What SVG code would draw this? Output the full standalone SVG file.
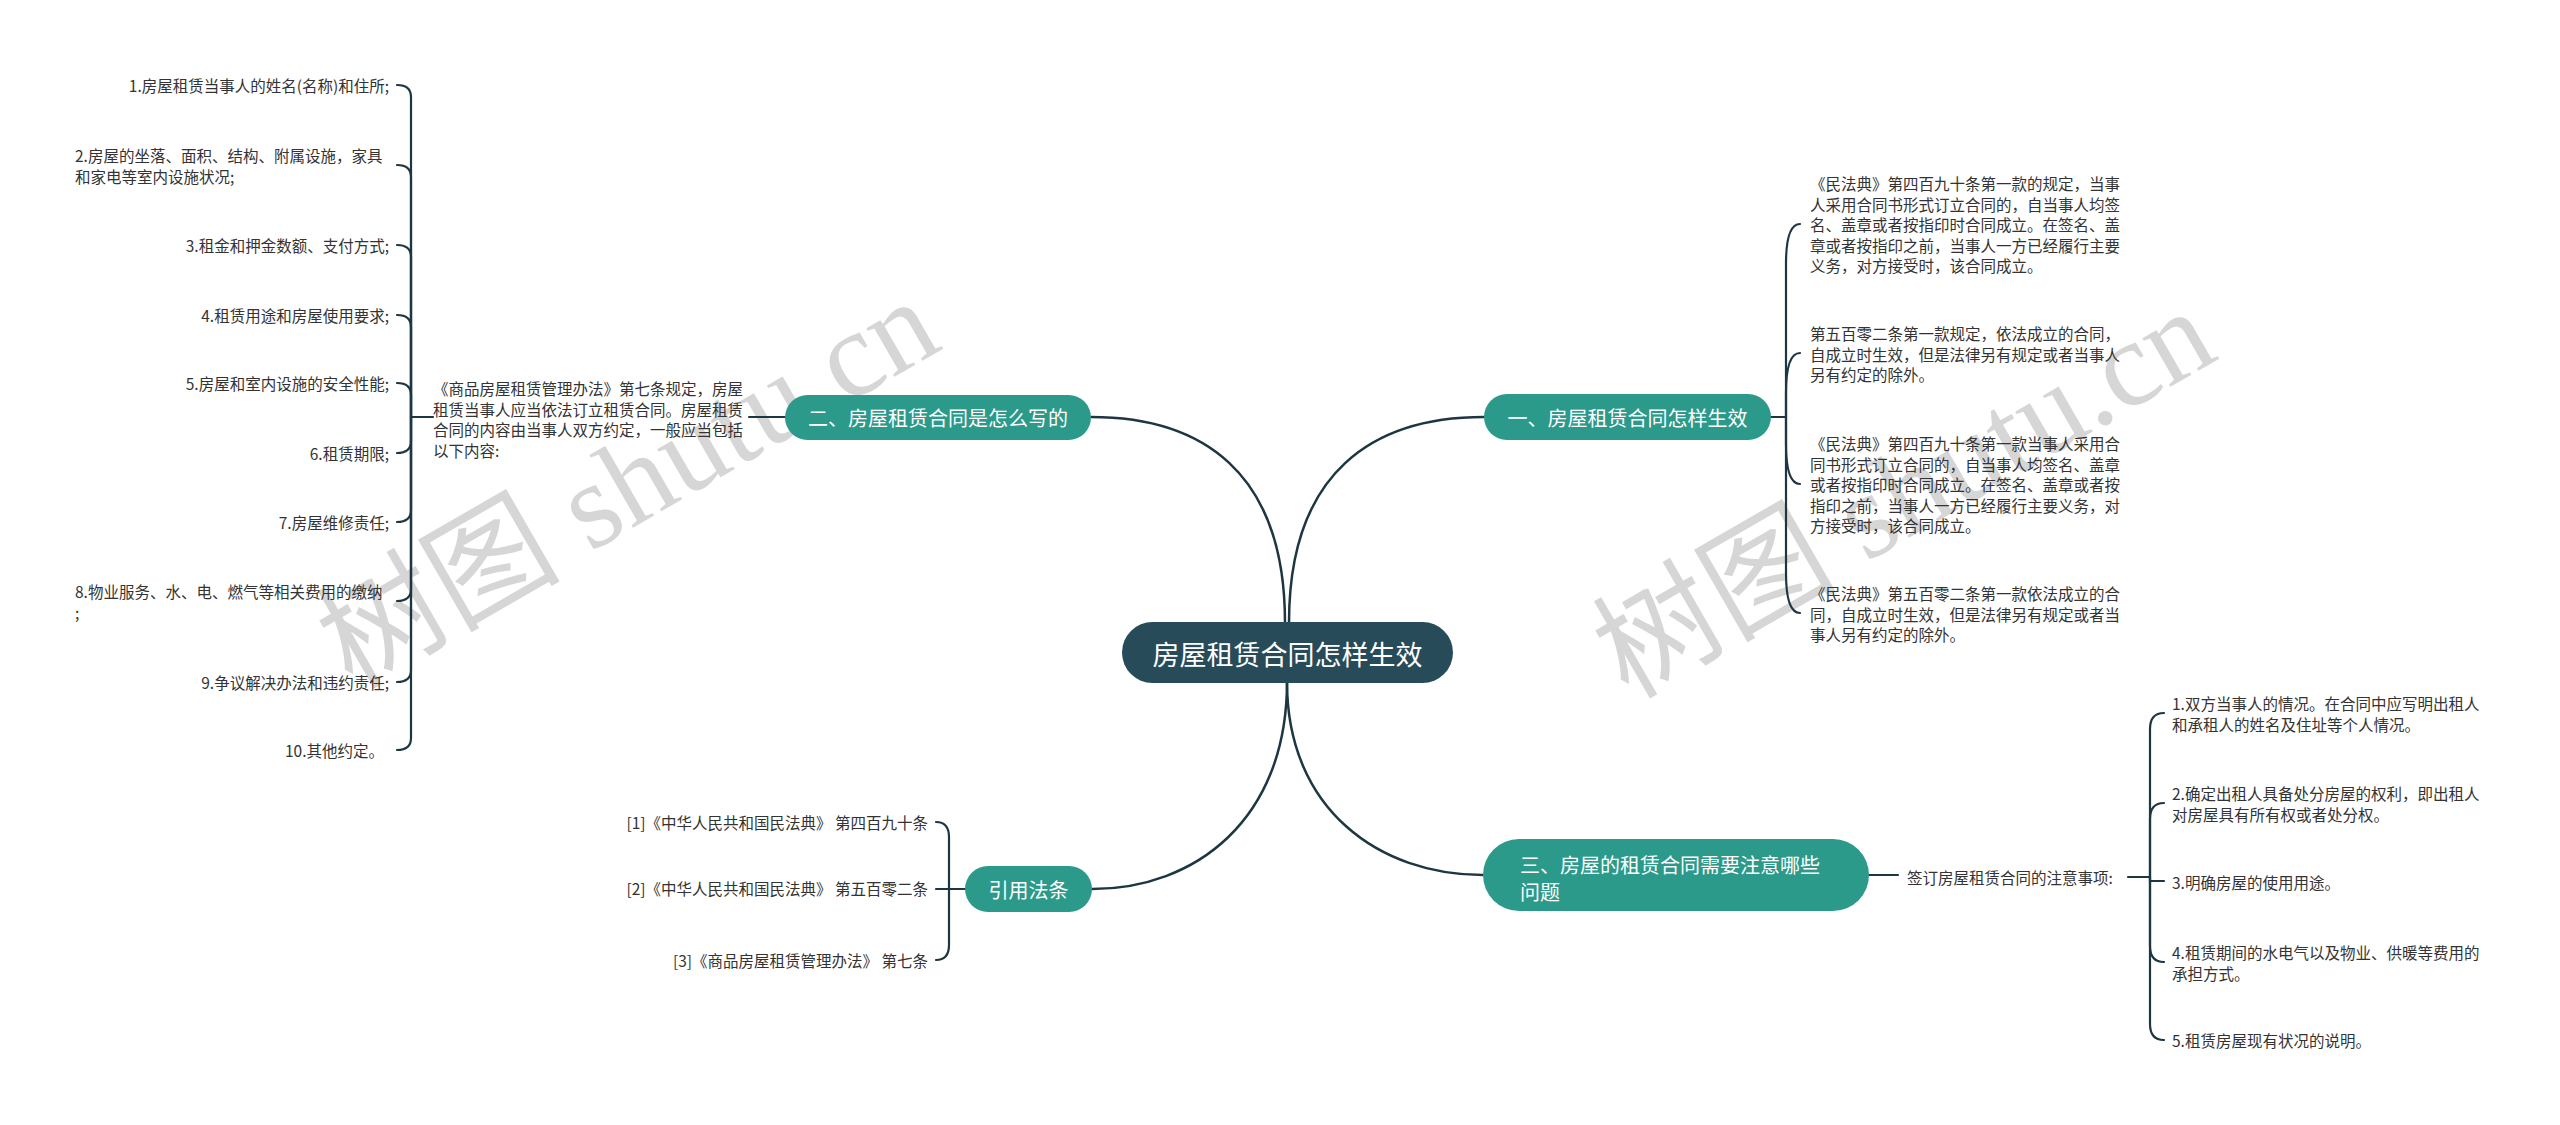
<svg xmlns="http://www.w3.org/2000/svg" width="2560" height="1125" viewBox="0 0 2560 1125">
<style>
.wm { font-family: "Liberation Serif", "Noto Sans CJK SC", serif; font-size: 122px; fill: #d6d6d6; }
.t { font-family: "Noto Sans CJK SC", "Noto Sans", sans-serif; font-size: 15.5px; fill: #333333; dominant-baseline: central; }
.r { text-anchor: end; }
.n1 rect { fill: #2b9a8b; }
.n1 text { font-family: "Noto Sans CJK SC", "Noto Sans", sans-serif; font-size: 20px; fill: #ffffff; dominant-baseline: central; }
.root rect { fill: #274b59; }
.root text { font-family: "Noto Sans CJK SC", "Noto Sans", sans-serif; font-size: 27px; fill: #ffffff; dominant-baseline: central; text-anchor: middle; }
.c { fill: none; stroke: #1d3742; stroke-width: 2.5; stroke-linecap: round; }
.b { fill: none; stroke: #1d3742; stroke-width: 2.2; stroke-linecap: round; }
</style>
<rect width="2560" height="1125" fill="#ffffff"/>
<g id="watermarks">
<text class="wm" transform="rotate(-30 352 690)" x="352" y="690">树图 shutu.cn</text>
<text class="wm" transform="rotate(-30 1628 700)" x="1628" y="700">树图 shutu.cn</text>
</g>
<g id="connectors">
<path class="c" d="M1091,417 C1200,417 1285,470 1285,623"/>
<path class="c" d="M1484,417 C1375,417 1289,470 1289,623"/>
<path class="c" d="M1287,682 C1287,810 1380,875 1483,875"/>
<path class="c" d="M1287,682 C1287,820 1195,889 1092,889"/>
<path class="b" d="M785,417 H749"/>
<path class="b" d="M433,417 H411"/>
<path class="b" d="M411,417 V97 Q411,85 397,85"/>
<path class="b" d="M411,417 V177 Q411,165 397,165"/>
<path class="b" d="M411,417 V257 Q411,245 397,245"/>
<path class="b" d="M411,417 V327 Q411,315 397,315"/>
<path class="b" d="M411,417 V395 Q411,383 397,383"/>
<path class="b" d="M411,417 V441 Q411,453 397,453"/>
<path class="b" d="M411,417 V510 Q411,522 397,522"/>
<path class="b" d="M411,417 V589 Q411,601 397,601"/>
<path class="b" d="M411,417 V670 Q411,682 397,682"/>
<path class="b" d="M411,417 V738 Q411,750 397,750"/>
<path class="b" d="M1771,417 H1786"/>
<path class="b" d="M1786,417 V264 Q1786,224 1800,224"/>
<path class="b" d="M1786,417 V393 Q1786,353 1800,353"/>
<path class="b" d="M1786,417 V444 Q1786,484 1800,484"/>
<path class="b" d="M1786,417 V573 Q1786,613 1800,613"/>
<path class="b" d="M1869,875 H1898"/>
<path class="b" d="M2128,877 H2150"/>
<path class="b" d="M2150,877 V729 Q2150,713 2164,713"/>
<path class="b" d="M2150,877 V819 Q2150,803 2164,803"/>
<path class="b" d="M2150,877 V881 H2164"/>
<path class="b" d="M2150,877 V946 Q2150,962 2164,962"/>
<path class="b" d="M2150,877 V1024 Q2150,1040 2164,1040"/>
<path class="b" d="M965,889 H949"/>
<path class="b" d="M949,889 V837 Q949,822 936,822"/>
<path class="b" d="M949,889 H936"/>
<path class="b" d="M949,889 V945 Q949,960 936,960"/>
</g>
<g id="root" class="root">
<rect x="1122" y="622" width="331" height="61" rx="30.5"/>
<text x="1287.5" y="653">房屋租赁合同怎样生效</text>
</g>
<g id="node-yi" class="n1">
<rect x="1484" y="394" width="287" height="46" rx="23"/>
<text x="1627.5" y="417" text-anchor="middle">一、房屋租赁合同怎样生效</text>
</g>
<g id="node-er" class="n1">
<rect x="785" y="395" width="306" height="45" rx="22.5"/>
<text x="938" y="417.5" text-anchor="middle">二、房屋租赁合同是怎么写的</text>
</g>
<g id="node-san" class="n1">
<rect x="1483" y="839" width="386" height="72" rx="36"/>
<text x="1520" y="864">三、房屋的租赁合同需要注意哪些</text>
<text x="1520" y="891">问题</text>
</g>
<g id="node-yinyong" class="n1">
<rect x="965" y="866" width="127" height="46" rx="23"/>
<text x="1028.5" y="889" text-anchor="middle">引用法条</text>
</g>
<g id="er-desc">
<text class="t" x="433" y="388">《商品房屋租赁管理办法》第七条规定，房屋</text>
<text class="t" x="433" y="408.5">租赁当事人应当依法订立租赁合同。房屋租赁</text>
<text class="t" x="433" y="429">合同的内容由当事人双方约定，一般应当包括</text>
<text class="t" x="433" y="449.5">以下内容:</text>
</g>
<g id="er-items">
<text class="t r" x="389" y="85">1.房屋租赁当事人的姓名(名称)和住所;</text>
<text class="t" x="75" y="155">2.房屋的坐落、面积、结构、附属设施，家具</text>
<text class="t" x="75" y="175.5">和家电等室内设施状况;</text>
<text class="t r" x="389" y="245">3.租金和押金数额、支付方式;</text>
<text class="t r" x="389" y="315">4.租赁用途和房屋使用要求;</text>
<text class="t r" x="389" y="383">5.房屋和室内设施的安全性能;</text>
<text class="t r" x="389" y="453">6.租赁期限;</text>
<text class="t r" x="389" y="522">7.房屋维修责任;</text>
<text class="t" x="75" y="591">8.物业服务、水、电、燃气等相关费用的缴纳</text>
<text class="t" x="75" y="611.5">;</text>
<text class="t r" x="389" y="682">9.争议解决办法和违约责任;</text>
<text class="t r" x="384" y="750">10.其他约定。</text>
</g>
<g id="yi-items">
<text class="t" x="1810" y="183">《民法典》第四百九十条第一款的规定，当事</text>
<text class="t" x="1810" y="203.5">人采用合同书形式订立合同的，自当事人均签</text>
<text class="t" x="1810" y="224">名、盖章或者按指印时合同成立。在签名、盖</text>
<text class="t" x="1810" y="244.5">章或者按指印之前，当事人一方已经履行主要</text>
<text class="t" x="1810" y="265">义务，对方接受时，该合同成立。</text>
<text class="t" x="1810" y="333">第五百零二条第一款规定，依法成立的合同，</text>
<text class="t" x="1810" y="353.5">自成立时生效，但是法律另有规定或者当事人</text>
<text class="t" x="1810" y="374">另有约定的除外。</text>
<text class="t" x="1810" y="443">《民法典》第四百九十条第一款当事人采用合</text>
<text class="t" x="1810" y="463.5">同书形式订立合同的，自当事人均签名、盖章</text>
<text class="t" x="1810" y="484">或者按指印时合同成立。在签名、盖章或者按</text>
<text class="t" x="1810" y="504.5">指印之前，当事人一方已经履行主要义务，对</text>
<text class="t" x="1810" y="525">方接受时，该合同成立。</text>
<text class="t" x="1810" y="593">《民法典》第五百零二条第一款依法成立的合</text>
<text class="t" x="1810" y="613.5">同，自成立时生效，但是法律另有规定或者当</text>
<text class="t" x="1810" y="634">事人另有约定的除外。</text>
</g>
<g id="san-desc">
<text class="t" x="1907" y="877">签订房屋租赁合同的注意事项:</text>
</g>
<g id="san-items">
<text class="t" x="2172" y="703">1.双方当事人的情况。在合同中应写明出租人</text>
<text class="t" x="2172" y="723.5">和承租人的姓名及住址等个人情况。</text>
<text class="t" x="2172" y="793">2.确定出租人具备处分房屋的权利，即出租人</text>
<text class="t" x="2172" y="813.5">对房屋具有所有权或者处分权。</text>
<text class="t" x="2172" y="882">3.明确房屋的使用用途。</text>
<text class="t" x="2172" y="952">4.租赁期间的水电气以及物业、供暖等费用的</text>
<text class="t" x="2172" y="972.5">承担方式。</text>
<text class="t" x="2172" y="1040">5.租赁房屋现有状况的说明。</text>
</g>
<g id="yinyong-items">
<text class="t r" x="928" y="822">[1]《中华人民共和国民法典》 第四百九十条</text>
<text class="t r" x="928" y="888">[2]《中华人民共和国民法典》 第五百零二条</text>
<text class="t r" x="928" y="960">[3]《商品房屋租赁管理办法》 第七条</text>
</g>
</svg>
